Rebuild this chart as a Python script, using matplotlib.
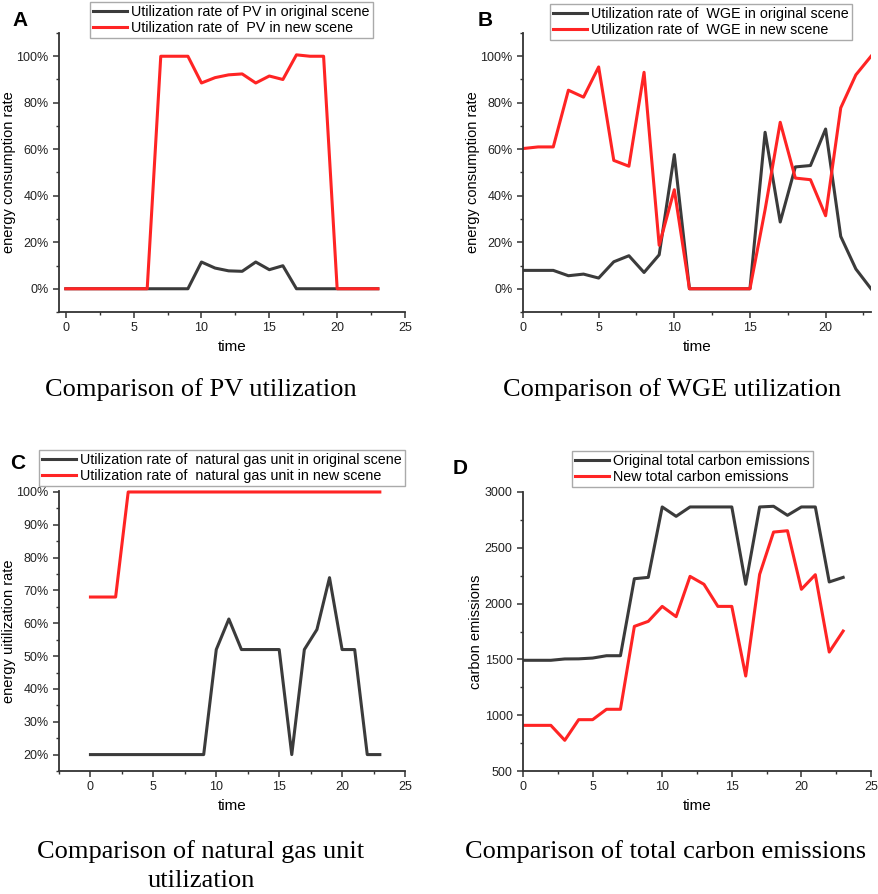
import numpy as np
import matplotlib
matplotlib.use('Agg')
import matplotlib.pyplot as plt
from matplotlib.ticker import MultipleLocator, FuncFormatter

plt.rcParams['font.family'] = ['Liberation Sans', 'DejaVu Sans']

# hours
time = list(range(24))

# A: PV utilization (%)
pv_orig = [0, 0, 0, 0, 0, 0, 0, 0, 0, 0, 11.5, 8.9, 7.7, 7.5, 11.5, 8.2, 9.9, 0, 0, 0, 0, 0, 0, 0]
pv_new = [0, 0, 0, 0, 0, 0, 0, 100, 100, 100, 88.5, 90.8, 92, 92.4, 88.5, 91.5, 90, 100.6, 100, 100, 0, 0, 0, 0]

# B: WGE utilization (%)
wge_orig = [7.9, 7.9, 7.9, 5.6, 6.3, 4.6, 11.6, 14.2, 7.0, 14.6, 57.7, 0, 0, 0, 0, 0,
            67.3, 28.7, 52.4, 53.0, 68.7, 22.5, 8.5, 0]
wge_new = [60.3, 61, 61, 85.4, 82.4, 95.4, 55.2, 52.7, 93.1, 18.7, 42.6, 0, 0, 0, 0, 0,
           34, 71.6, 47.6, 46.9, 31.4, 77.8, 92, 100]

# C: natural gas unit utilization (%)
gas_orig = [20, 20, 20, 20, 20, 20, 20, 20, 20, 20, 52, 61.3, 52, 52, 52, 52,
            20, 52, 58.1, 73.9, 52, 52, 20, 20]
gas_new = [68, 68, 68] + [100] * 21

# D: total carbon emissions
co2_orig = [1492, 1492, 1492, 1504, 1505, 1512, 1533, 1533, 2223, 2235, 2866, 2782,
            2866, 2866, 2866, 2866, 2173, 2866, 2872, 2791, 2866, 2866, 2194, 2235]
co2_new = [909, 909, 909, 775, 960, 960, 1053, 1053, 1796, 1841, 1975, 1883,
           2244, 2173, 1975, 1975, 1351, 2262, 2641, 2653, 2128, 2259, 1566, 1754]

BLACK = '#3b3b3b'
RED = '#ff2424'

fig = plt.figure(figsize=(8.79, 8.94), dpi=100)

W, H = 879.0, 894.0
def ax_at(l, t, r, b):
    return fig.add_axes([l / W, 1 - b / H, (r - l) / W, (b - t) / H])

pct = FuncFormatter(lambda v, p: '%d%%' % round(v))

def style(ax, label, lx):
    for s in ('top', 'right'):
        ax.spines[s].set_visible(False)
    for s in ('left', 'bottom'):
        ax.spines[s].set_linewidth(1.3)
        ax.spines[s].set_color('#333333')
    ax.tick_params(which='major', direction='out', length=4, width=1.1, labelsize=9, colors='#333333')
    ax.tick_params(which='minor', direction='out', length=2.5, width=1.0, colors='#333333')
    ax.tick_params(labelcolor='#222222')
    ax.xaxis.set_major_locator(MultipleLocator(5))
    ax.xaxis.set_minor_locator(MultipleLocator(2.5))
    ax.set_xlabel('time', fontsize=11, labelpad=4)
    ax.set_ylabel(label, fontsize=10.5)
    # label coords give the right edge of the rotated label
    ax.yaxis.set_label_coords(lx, 0.5)

def legend(ax, x, y, handles_labels):
    lg = ax.legend(*handles_labels, loc='upper left', bbox_to_anchor=(x / W, 1 - y / H),
                   bbox_transform=fig.transFigure, borderaxespad=0, fontsize=10.3,
                   fancybox=False, framealpha=1, edgecolor='#aaaaaa', borderpad=0.2,
                   labelspacing=0.15, handlelength=2.4, handletextpad=0.3)
    lg.get_frame().set_linewidth(1.0)

# A
axA = ax_at(59, 33, 405, 312)
la, = axA.plot(time, pv_orig, color=BLACK, lw=2.2)
lb, = axA.plot(time, pv_new, color=RED, lw=2.2)
axA.set_xlim(-0.5, 25)
axA.set_ylim(-10, 110)
axA.yaxis.set_major_locator(MultipleLocator(20))
axA.yaxis.set_minor_locator(MultipleLocator(10))
axA.yaxis.set_major_formatter(pct)
style(axA, 'energy consumption rate', -0.125)
legend(axA, 90, 2, ([la, lb], ['Utilization rate of PV in original scene',
                               'Utilization rate of  PV in new scene']))

# B
axB = ax_at(523, 33, 871, 312)
la, = axB.plot(time, wge_orig, color=BLACK, lw=2.2)
lb, = axB.plot(time, wge_new, color=RED, lw=2.2)
axB.set_xlim(0, 23)
axB.set_ylim(-10, 110)
axB.yaxis.set_major_locator(MultipleLocator(20))
axB.yaxis.set_minor_locator(MultipleLocator(10))
axB.yaxis.set_major_formatter(pct)
style(axB, 'energy consumption rate', -0.124)
legend(axB, 550, 4, ([la, lb], ['Utilization rate of  WGE in original scene',
                                'Utilization rate of  WGE in new scene']))

# C
axC = ax_at(59, 491, 405, 771)
la, = axC.plot(time, gas_orig, color=BLACK, lw=2.2)
lb, = axC.plot(time, gas_new, color=RED, lw=2.2, clip_on=False)
axC.set_xlim(-2.5, 25)
axC.set_ylim(15, 100.3)
axC.yaxis.set_minor_locator(MultipleLocator(5))
axC.set_yticks([20, 30, 40, 50, 60, 70, 80, 90, 100])
axC.yaxis.set_major_formatter(pct)
style(axC, 'energy uitilization rate', -0.125)
legend(axC, 39, 450, ([la, lb], ['Utilization rate of  natural gas unit in original scene',
                                 'Utilization rate of  natural gas unit in new scene']))

# D
axD = ax_at(523, 492, 871, 771)
la, = axD.plot(time, co2_orig, color=BLACK, lw=2.2)
lb, = axD.plot(time, co2_new, color=RED, lw=2.2)
axD.set_xlim(0, 25)
axD.set_ylim(500, 3000)
axD.yaxis.set_major_locator(MultipleLocator(500))
axD.yaxis.set_minor_locator(MultipleLocator(250))
style(axD, 'carbon emissions', -0.115)
legend(axD, 572, 451, ([la, lb], ['Original total carbon emissions',
                                  'New total carbon emissions']))

# panel letters
for x, y, s in [(12, 20, 'A'), (478, 20, 'B'), (10, 464, 'C'), (453, 468, 'D')]:
    fig.text(x / W, 1 - y / H, s, fontsize=15, fontweight='bold', va='center', ha='left')

# captions
cap = dict(fontsize=19, family='Liberation Serif', ha='center', va='center')
fig.text(201 / W, 1 - 390 / H, 'Comparison of PV utilization', **cap)
fig.text(672 / W, 1 - 390 / H, 'Comparison of WGE utilization', **cap)
fig.text(201 / W, 1 - 852 / H, 'Comparison of natural gas unit', **cap)
fig.text(201 / W, 1 - 881 / H, 'utilization', **cap)
fig.text(666 / W, 1 - 852 / H, 'Comparison of total carbon emissions', **cap)

fig.savefig('out.png', dpi=100)
